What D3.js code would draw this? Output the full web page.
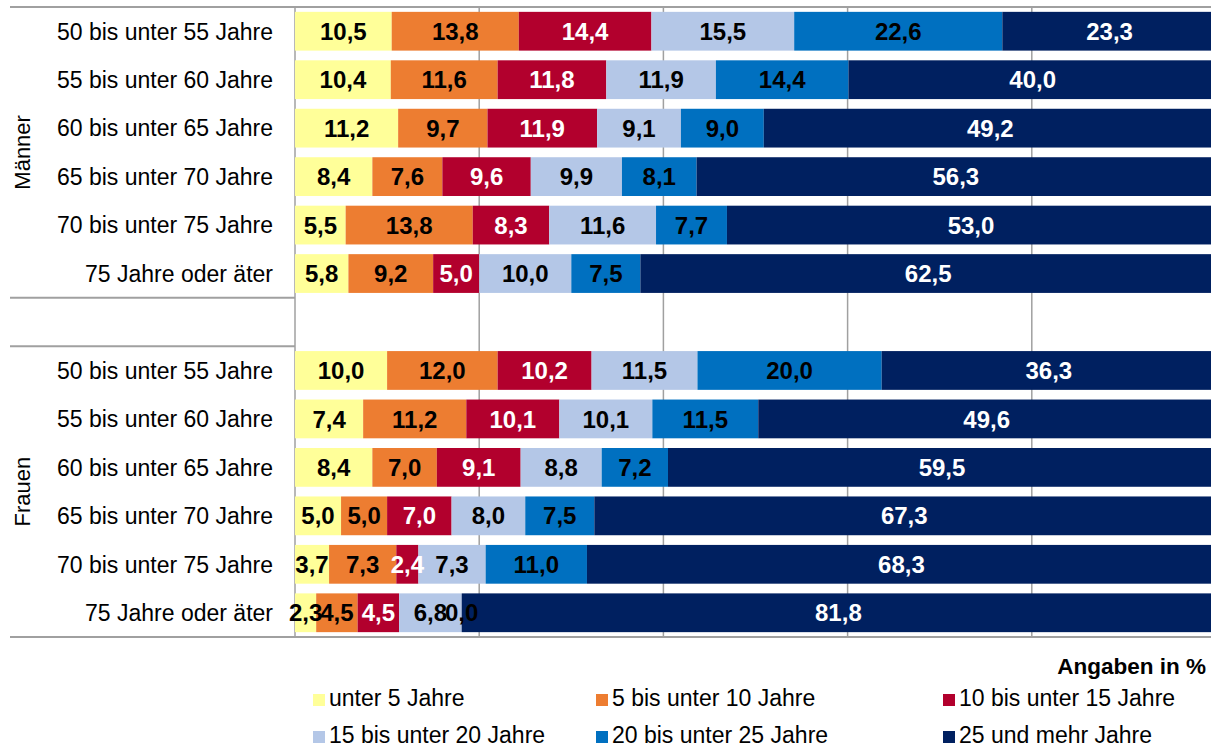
<!DOCTYPE html>
<html>
<head>
<meta charset="utf-8">
<script src="https://cdn.jsdelivr.net/npm/d3@7"></script>
<style>
  body { margin: 0; background: #fff; }
  text { font-family: "Liberation Sans", Arial, sans-serif; }
</style>
</head>
<body>
<div id="chart"></div>
<script>
// age groups (rows), repeated for both sexes
var ageGroups = ["50 bis unter 55 Jahre", "55 bis unter 60 Jahre", "60 bis unter 65 Jahre",
                 "65 bis unter 70 Jahre", "70 bis unter 75 Jahre", "75 Jahre oder äter"];
var sexes = ["Männer", "Frauen"];

// legend / stack order
var seriesNames = ["unter 5 Jahre", "5 bis unter 10 Jahre", "10 bis unter 15 Jahre",
                   "15 bis unter 20 Jahre", "20 bis unter 25 Jahre", "25 und mehr Jahre"];
var seriesColors = ["#ffff99", "#ed7d31", "#b2002d", "#b4c7e7", "#0070c0", "#002060"];
var labelColors = ["#000", "#000", "#fff", "#000", "#000", "#fff"];

// values in %, one array per series: first 6 = Männer, last 6 = Frauen
var unter5   = [10.5, 10.4, 11.2, 8.4, 5.5, 5.8,   10.0, 7.4, 8.4, 5.0, 3.7, 2.3];
var bis10    = [13.8, 11.6, 9.7, 7.6, 13.8, 9.2,   12.0, 11.2, 7.0, 5.0, 7.3, 4.5];
var bis15    = [14.4, 11.8, 11.9, 9.6, 8.3, 5.0,   10.2, 10.1, 9.1, 7.0, 2.4, 4.5];
var bis20    = [15.5, 11.9, 9.1, 9.9, 11.6, 10.0,  11.5, 10.1, 8.8, 8.0, 7.3, 6.8];
var bis25    = [22.6, 14.4, 9.0, 8.1, 7.7, 7.5,    20.0, 11.5, 7.2, 7.5, 11.0, 0.0];
var ab25     = [23.3, 40.0, 49.2, 56.3, 53.0, 62.5, 36.3, 49.6, 59.5, 67.3, 68.3, 81.8];
var seriesValues = [unter5, bis10, bis15, bis20, bis25, ab25];

var xTicks = [0, 20, 40, 60, 80, 100];

var W = 1211, H = 747;
var plotLeft = 295, plotRight = 1216, plotTop = 7, plotBottom = 637;

var svg = d3.select("#chart").append("svg")
    .attr("width", W)
    .attr("height", H);

// row keys: 6 men, an empty spacer row, 6 women
var rowKeys = [];
sexes.forEach(function(s, si) {
    ageGroups.forEach(function(a, ai) { rowKeys.push(si + "-" + ai); });
    if (si === 0) rowKeys.push("gap");
});

var x = d3.scaleLinear().domain([0, 100]).range([plotLeft, plotRight]);
var y = d3.scaleBand().domain(rowKeys).range([plotTop, plotBottom])
    .paddingInner(0.2).paddingOuter(0.1);

// vertical gridlines
svg.append("g")
    .selectAll("line")
    .data(xTicks)
    .enter().append("line")
    .attr("x1", d => x(d)).attr("x2", d => x(d))
    .attr("y1", plotTop).attr("y2", plotBottom)
    .attr("stroke", "#a0a0a0")
    .attr("stroke-width", 1.5);

// build stacked rows
var rows = [];
sexes.forEach(function(s, si) {
    ageGroups.forEach(function(a, ai) {
        var i = si * ageGroups.length + ai;
        var row = { key: si + "-" + ai };
        seriesNames.forEach(function(n, k) { row[n] = seriesValues[k][i]; });
        rows.push(row);
    });
});
var stacked = d3.stack().keys(seriesNames)(rows);

var fmt = d3.formatLocale({ decimal: ",", thousands: ".", grouping: [3], currency: ["", "€"] }).format(".1f");

var layers = svg.append("g")
    .selectAll("g")
    .data(stacked)
    .enter().append("g")
    .attr("fill", (d, i) => seriesColors[i]);

layers.selectAll("rect")
    .data(d => d)
    .enter().append("rect")
    .attr("x", d => x(d[0]))
    .attr("width", d => x(d[1]) - x(d[0]))
    .attr("y", d => y(d.data.key))
    .attr("height", y.bandwidth());

// value labels on top of all bars
var labels = svg.append("g");
stacked.forEach(function(layer, k) {
    labels.selectAll(null)
        .data(layer)
        .enter().append("text")
        .attr("x", d => (x(d[0]) + x(d[1])) / 2)
        .attr("y", d => y(d.data.key) + y.bandwidth() / 2)
        .attr("dy", "0.36em")
        .attr("text-anchor", "middle")
        .attr("font-weight", "bold")
        .attr("font-size", "24px")
        .attr("fill", labelColors[k])
        .text(d => fmt(d[1] - d[0]));
});

// frame lines
var lineColor = "#a0a0a0";
svg.append("line").attr("x1", 10).attr("x2", W).attr("y1", plotTop).attr("y2", plotTop)
    .attr("stroke", lineColor).attr("stroke-width", 2);
svg.append("line").attr("x1", 10).attr("x2", W).attr("y1", plotBottom).attr("y2", plotBottom)
    .attr("stroke", lineColor).attr("stroke-width", 2);
// separators around the spacer row
var gapTop = y("gap") - y.step() * y.paddingInner() / 2;
[gapTop, gapTop + y.step()].forEach(function(yy) {
    svg.append("line").attr("x1", 10).attr("x2", plotLeft).attr("y1", yy).attr("y2", yy)
        .attr("stroke", lineColor).attr("stroke-width", 2);
});

// age group labels
svg.append("g")
    .selectAll("text")
    .data(rows)
    .enter().append("text")
    .attr("x", 273)
    .attr("y", d => y(d.key) + y.bandwidth() / 2)
    .attr("dy", "0.36em")
    .attr("text-anchor", "end")
    .attr("font-size", "23px")
    .attr("fill", "#000")
    .text(d => ageGroups[+d.key.split("-")[1]]);

// sex labels, rotated
sexes.forEach(function(s, si) {
    var first = y(si + "-0"), last = y(si + "-" + (ageGroups.length - 1)) + y.bandwidth();
    svg.append("text")
        .attr("transform", "translate(30," + ((first + last) / 2) + ") rotate(-90)")
        .attr("text-anchor", "middle")
        .attr("font-size", "22px")
        .attr("fill", "#000")
        .text(s);
});

// unit note
svg.append("text")
    .attr("x", 1206).attr("y", 674)
    .attr("text-anchor", "end")
    .attr("font-weight", "bold")
    .attr("font-size", "22.5px")
    .text("Angaben in %");

// legend: 2 rows x 3 columns
var legendX = [313, 596, 943], legendY = [694, 731];
var legend = svg.append("g")
    .selectAll("g")
    .data(seriesNames)
    .enter().append("g")
    .attr("transform", (d, i) => "translate(" + legendX[i % 3] + "," + legendY[Math.floor(i / 3)] + ")");
legend.append("rect")
    .attr("width", 12).attr("height", 12)
    .attr("fill", (d, i) => seriesColors[i]);
legend.append("text")
    .attr("x", 16).attr("y", 12)
    .attr("font-size", "23px")
    .text(d => d);
</script>
</body>
</html>
